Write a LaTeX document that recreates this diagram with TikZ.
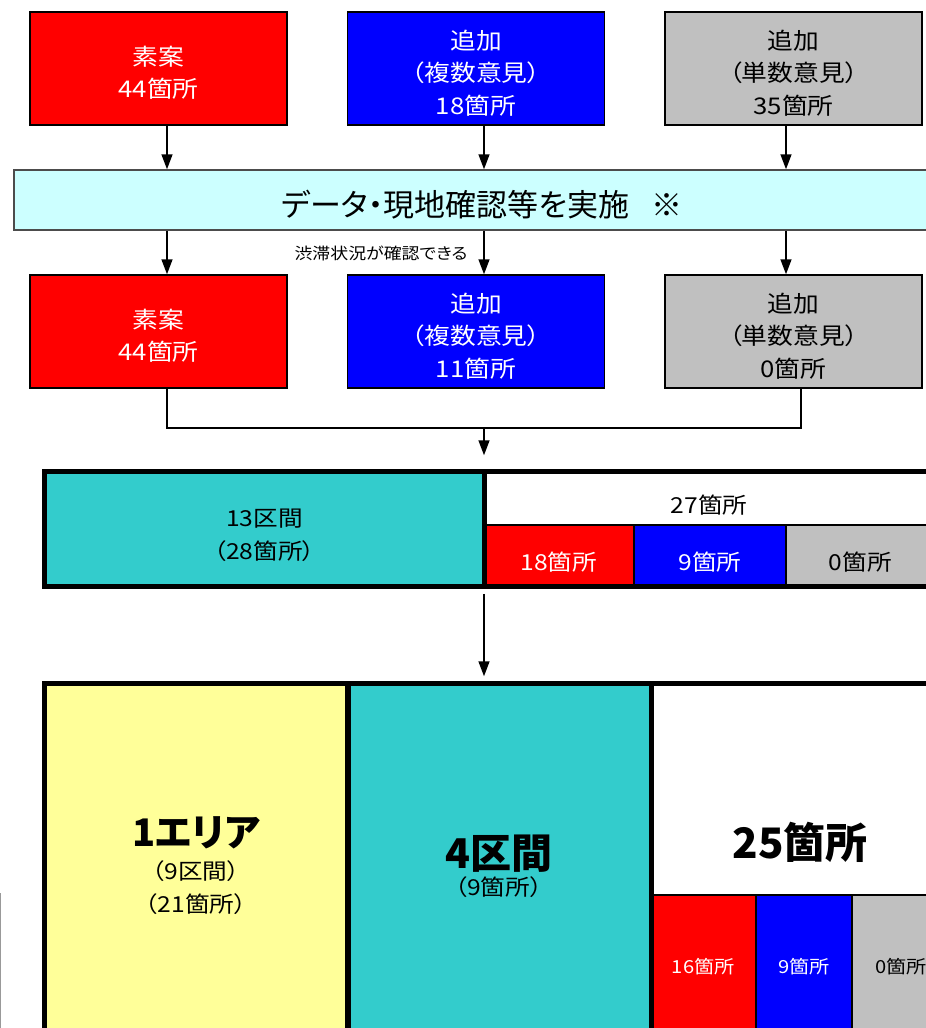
\documentclass[tikz,border=0pt]{standalone}
\usepackage{fontspec}
\setmainfont{Noto Sans CJK JP}[RawFeature=+palt]
\newfontfamily\jpw{Noto Sans CJK JP}[FakeStretch=1.12,RawFeature=+palt]
\newfontfamily\jpfett{Noto Sans CJK JP Black}[RawFeature=+palt]
\usetikzlibrary{arrows.meta}
\definecolor{hai}{HTML}{C0C0C0}
\definecolor{mizu}{HTML}{CCFFFF}
\definecolor{ao2}{HTML}{33CCCC}
\definecolor{ki}{HTML}{FFFF99}
\newcommand\zeile[1][28pt]{\rule{0pt}{#1}}
\tikzset{runter/.style = {execute at begin node={\rule{0pt}{#1}}},
         rauf/.style = {execute at end node={\rule[-#1]{0pt}{0pt}}},
         kasten/.style = {draw=black, line width=1.5pt, minimum width=257pt,
                          minimum height=113pt, inner sep=0pt, align=center,
                          font=\jpw\fontsize{23}{32.5}\selectfont},
         aka/.style = {kasten, fill=red, text=white},
         ao/.style = {kasten, fill=blue, text=white},
         hai/.style = {kasten, fill=hai},
         zelle/.style = {draw=black, line width=1.5pt, inner sep=0pt, align=center,
                         font=\jpw\fontsize{22}{33}\selectfont},
         dick/.style = {line width=5pt},
         pfeil/.style = {-{Triangle[length=15pt,width=11pt]}, line width=1.5pt}}

\begin{document}
\begin{tikzpicture}[x=1pt, y=-1pt]
    \useasboundingbox (0, 0) rectangle (926, 1028);
    \clip (0, 0) rectangle (926, 1028);
    \coordinate (c1) at (167, 0);
    \coordinate (c2) at (484, 0);
    \coordinate (c3) at (786, 0);
    \coordinate (c4) at (801, 0);
    % obere Reihe
    \node [aka] (soan1) at (158.5, 68.5) {\zeile 素案\\44箇所};
    \node [ao] (fuku1) at (476, 68.5) {\zeile 追加\\（複数意見）\\18箇所};
    \node [hai] (tan1) at (793.5, 68.5) {\zeile 追加\\（単数意見）\\35箇所};
    \node [draw=black!70, line width=1.5pt, fill=mizu, minimum width=936pt, minimum height=60pt,
           font=\fontsize{31}{33}\selectfont, runter=35pt] (jisshi) at (482, 200) {データ・現地確認等を実施\hspace{22pt}※};
    \draw [pfeil] (soan1.south -| c1) -- (jisshi.north -| c1);
    \draw [pfeil] (fuku1.south -| c2) -- (jisshi.north -| c2);
    \draw [pfeil] (tan1.south -| c3) -- (jisshi.north -| c3);
    % mittlere Reihe
    \node [aka] (soan2) at (158.5, 331.5) {\zeile 素案\\44箇所};
    \node [ao] (fuku2) at (476, 331.5) {\zeile 追加\\（複数意見）\\11箇所};
    \node [hai] (tan2) at (793.5, 331.5) {\zeile 追加\\（単数意見）\\0箇所};
    \node [font=\jpw\fontsize{16}{18}\selectfont] (memo) at (381, 253) {渋滞状況が確認できる};
    \draw [pfeil] (jisshi.south -| c1) -- (soan2.north -| c1);
    \draw [pfeil] (jisshi.south -| c2) -- (fuku2.north -| c2);
    \draw [pfeil] (jisshi.south -| c3) -- (tan2.north -| c3);
    \coordinate (naka) at (484, 428);
    \draw [line width=1.5pt] (soan2.south -| c1) |- (naka) -| (tan2.south -| c4);
    % 13区間
    \node [zelle, fill=ao2, minimum width=438pt, minimum height=113pt] (ku13) at (264.5, 529) {\zeile[29.5pt]13区間\\（28箇所）};
    \node [zelle, fill=white, minimum width=451pt, minimum height=52.5pt, runter=32pt] (sum27) at (709, 498.75) {27箇所};
    \node [zelle, fill=red, text=white, minimum width=150.5pt, minimum height=60.5pt, runter=32pt] (r18) at (558.75, 555.25) {18箇所};
    \node [zelle, fill=blue, text=white, minimum width=152pt, minimum height=60.5pt, runter=32pt] (b9) at (710, 555.25) {9箇所};
    \node [zelle, fill=hai, minimum width=148.5pt, minimum height=60.5pt, runter=32pt] (g0) at (860.25, 555.25) {0箇所};
    \draw [dick] (ku13.north west) rectangle (g0.south east);
    \draw [dick] (ku13.north east) -- (ku13.south east);
    \draw [pfeil, shorten >=16.5pt] (naka) -- (ku13.north east -| c2);
    % unten
    \node [zelle, fill=ki, minimum width=302pt, minimum height=363pt] (eria) at (196, 866)
          {{\jpfett\fontsize{38}{38}\selectfont 1エリア}\\（9区間）\\（21箇所）};
    \node [zelle, fill=ao2, minimum width=303.5pt, minimum height=363pt] (ku4) at (498.75, 866)
          {{\jpfett\fontsize{41}{41}\selectfont 4区間}\\[-6pt]（9箇所）};
    \node [zelle, fill=white, minimum width=299pt, minimum height=210.5pt] (sum25) at (800, 789.75) {};
    \node [font=\jpfett\fontsize{42}{42}\selectfont] (t25) at (800, 842) {25箇所};
    \node [zelle, fill=red, text=white, minimum width=105.5pt, minimum height=152.5pt,
           font=\jpw\fontsize{18}{20}\selectfont, rauf=10pt] (r16) at (703.25, 971.25) {16箇所};
    \node [zelle, fill=blue, text=white, minimum width=96pt, minimum height=152.5pt,
           font=\jpw\fontsize{18}{20}\selectfont, rauf=10pt] (b9u) at (804, 971.25) {9箇所};
    \node [zelle, fill=hai, minimum width=97.5pt, minimum height=152.5pt,
           font=\jpw\fontsize{18}{20}\selectfont, rauf=10pt] (g0u) at (900.75, 971.25) {0箇所};
    \draw [dick] (eria.north west) rectangle (g0u.south east);
    \draw [line width=6pt] (eria.north east) -- (eria.south east);
    \draw [dick] (ku4.north east) -- (ku4.south east);
    \draw [pfeil, shorten <=7.5pt, shorten >=7.5pt] (ku13.south east -| c2) -- (ku4.north west -| c2);
    % Rand links
    \draw [black!40, line width=1pt] (0.5, 893) -- (0.5, 1028);
\end{tikzpicture}
\end{document}
